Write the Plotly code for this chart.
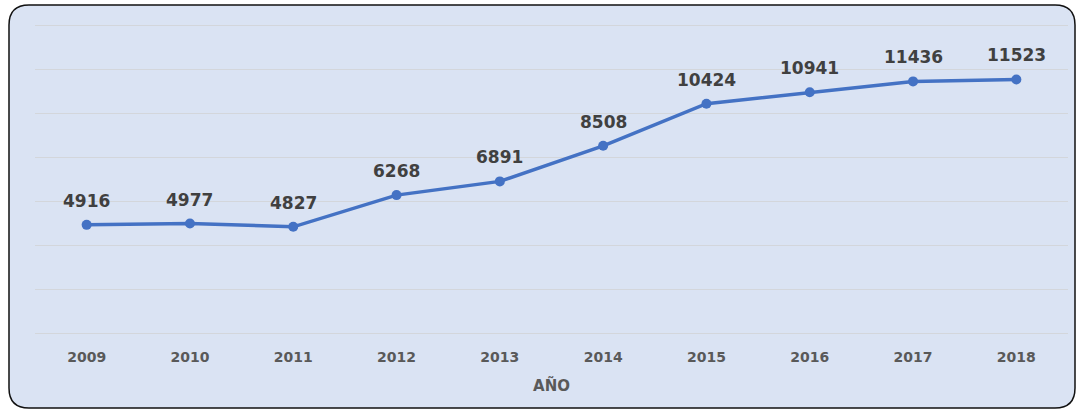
import plotly.graph_objects as go

years = ["2009", "2010", "2011", "2012", "2013", "2014", "2015", "2016", "2017", "2018"]
values = [4916, 4977, 4827, 6268, 6891, 8508, 10424, 10941, 11436, 11523]

W, H = 1079, 412
L, R, T, B = 35, 1068, 20, 333  # plot area in page pixels
PX_PER_2000 = 44
YMAX = (B - T) / PX_PER_2000 * 2000

def px(x):
    return (x - L) / (R - L)

def py(y):
    return (B - y) / (B - T)

# rounded rectangle frame (page pixel corners converted to paper coords)
x0, x1, y0, y1, r = 9, 1075, 5, 408, 20
pts = [
    ("M", x0 + r, y0),
    ("L", x1 - r, y0),
    ("Q", x1, y0, x1, y0 + r),
    ("L", x1, y1 - r),
    ("Q", x1, y1, x1 - r, y1),
    ("L", x0 + r, y1),
    ("Q", x0, y1, x0, y1 - r),
    ("L", x0, y0 + r),
    ("Q", x0, y0, x0 + r, y0),
]
path = ""
for p in pts:
    cmd = p[0]
    coords = p[1:]
    s = []
    for i in range(0, len(coords), 2):
        s.append(f"{px(coords[i]):.5f},{py(coords[i+1]):.5f}")
    path += cmd + " " + " ".join(s) + " "
path += "Z"

fig = go.Figure()
fig.add_trace(go.Scatter(
    x=years, y=values,
    mode="lines+markers",
    line=dict(color="#4472c4", width=3.5),
    marker=dict(color="#4472c4", size=10),
    hoverinfo="skip",
    cliponaxis=False,
))

annotations = [
    dict(x=i, y=v, xref="x", yref="y", text=str(v), showarrow=False, yshift=24,
         font=dict(family="DejaVu Sans", size=17, color="#404040", weight="bold"))
    for i, v in enumerate(values)
]

fig.update_layout(
    width=W, height=H,
    margin=dict(l=L, r=W - R, t=T, b=H - B, autoexpand=False),
    paper_bgcolor="white",
    plot_bgcolor="rgba(0,0,0,0)",
    showlegend=False,
    annotations=annotations,
    shapes=[dict(type="path", path=path, xref="paper", yref="paper",
                 fillcolor="#dae3f3", line=dict(color="#111111", width=1.5),
                 layer="below")],
    xaxis=dict(
        type="category", range=[-0.5, len(years) - 0.5],
        showgrid=False, showline=False, zeroline=False,
        ticks="", ticklabelstandoff=14,
        tickfont=dict(family="DejaVu Sans", size=14, color="#595959", weight="bold"),
        title=dict(text="AÑO", standoff=16,
                   font=dict(family="DejaVu Sans", size=15, color="#595959", weight="bold")),
    ),
    yaxis=dict(
        range=[0, YMAX], tick0=0, dtick=2000,
        showgrid=True, gridcolor="#d3d6db", gridwidth=1,
        zeroline=True, zerolinecolor="#d3d6db", zerolinewidth=1,
        showticklabels=False, ticks="", showline=False,
    ),
)

fig.write_html(
    "out.html",
    config={"displayModeBar": False},
    post_script="document.body.style.margin='0';document.body.style.overflow='hidden';",
)
